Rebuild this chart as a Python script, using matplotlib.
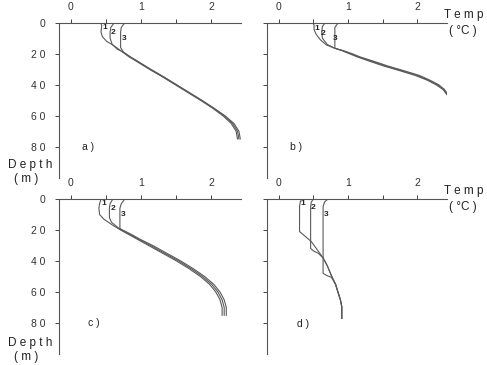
import numpy as np
import matplotlib.pyplot as plt

plt.rcParams['font.family'] = ['Liberation Sans', 'DejaVu Sans']

# ---- data (temperature degC, depth m) ----
# panel a
a1_t = [0.34, 0.43, 0.44, 0.43, 0.45, 0.51, 0.62, 0.74, 0.83, 0.94, 1.12, 1.31, 1.49, 1.67, 1.85, 2.02, 2.17, 2.29, 2.36, 2.38]
a1_d = [0, 0, 2, 6, 9, 12, 15, 19, 22, 25, 30, 35, 40, 45, 50, 55, 60, 65, 70, 75]
a2_t = [0.62, 0.57, 0.56, 0.56, 0.59, 0.66, 0.75, 0.84, 0.95, 1.13, 1.32, 1.50, 1.68, 1.86, 2.03, 2.19, 2.31, 2.38, 2.40]
a2_d = [0, 3, 6, 10, 14, 17, 19, 22, 25, 30, 35, 40, 45, 50, 55, 60, 65, 70, 75]
a3_t = [0.77, 0.72, 0.71, 0.71, 0.75, 0.85, 0.96, 1.14, 1.33, 1.51, 1.69, 1.87, 2.04, 2.20, 2.33, 2.40, 2.42]
a3_d = [0, 3, 6, 16, 19, 22, 25, 30, 35, 40, 45, 50, 55, 60, 65, 70, 75]

# panel b
b1_t = [0.28, 0.49, 0.51, 0.51, 0.54, 0.60, 0.69, 0.81, 0.91, 1.02, 1.13, 1.32, 1.52, 1.75, 1.97, 2.14, 2.27, 2.37, 2.43]
b1_d = [0, 0, 1.5, 4.5, 7.5, 11, 14.4, 16.5, 18, 20, 22, 25, 28, 31, 34, 37, 40, 43, 46.5]
b2_t = [0.67, 0.63, 0.62, 0.63, 0.70, 0.81, 0.92, 1.04, 1.15, 1.35, 1.55, 1.78, 2.00, 2.16, 2.29, 2.38, 2.44]
b2_d = [0, 2.5, 6, 10, 14, 16.5, 18, 20, 22, 25, 28, 31, 34, 37, 40, 43, 46.5]
b3_t = [0.86, 0.81, 0.81, 0.93, 1.06, 1.17, 1.38, 1.58, 1.81, 2.03, 2.18, 2.31, 2.39, 2.45]
b3_d = [0, 3, 16.5, 18, 20, 22, 25, 28, 31, 34, 37, 40, 43, 46.5]

# panel c
c1_t = [0.40, 0.43, 0.41, 0.40, 0.41, 0.47, 0.60, 0.71, 0.83, 0.95, 1.11, 1.31, 1.51, 1.69, 1.85, 1.98, 2.07, 2.13, 2.16, 2.16]
c1_d = [0, 0, 3, 6, 10, 13, 17, 20, 23, 26, 30, 35, 40, 45, 50, 55, 60, 65, 70, 75]
c2_t = [0.60, 0.56, 0.55, 0.55, 0.58, 0.66, 0.72, 0.85, 0.97, 1.14, 1.34, 1.54, 1.72, 1.88, 2.01, 2.10, 2.16, 2.19, 2.19]
c2_d = [0, 3, 6, 12, 15, 18, 20, 23, 26, 30, 35, 40, 45, 50, 55, 60, 65, 70, 75]
c3_t = [0.77, 0.72, 0.70, 0.70, 0.74, 0.87, 0.99, 1.17, 1.37, 1.57, 1.75, 1.91, 2.04, 2.13, 2.19, 2.22, 2.22]
c3_d = [0, 3, 6, 19, 20, 23, 26, 30, 35, 40, 45, 50, 55, 60, 65, 70, 75]

# panel d
d1_t = [0.33, 0.31, 0.30, 0.30, 0.38, 0.47, 0.56, 0.64, 0.70, 0.76, 0.82, 0.86, 0.89, 0.91, 0.91]
d1_d = [0, 2, 5, 21, 24, 27.5, 33, 38, 43, 49.4, 55, 60.8, 65, 69.4, 77]
d2_t = [0.50, 0.47, 0.46, 0.46, 0.50, 0.57, 0.64, 0.70, 0.76, 0.82, 0.86, 0.89, 0.91, 0.91]
d2_d = [0, 2, 5, 31.8, 33.5, 35, 38, 43, 49.4, 55, 60.8, 65, 69.4, 77]
d3_t = [0.71, 0.66, 0.64, 0.64, 0.70, 0.76, 0.82, 0.86, 0.89, 0.91, 0.91]
d3_d = [0, 2, 5, 48, 49.5, 50.5, 55, 60.8, 65, 69.4, 77]

panels = [
    ('a )', [(a1_t, a1_d), (a2_t, a2_d), (a3_t, a3_d)], [(0.49, 3.4), (0.60, 6.6), (0.76, 10.5)], (0.16, 80)),
    ('b )', [(b1_t, b1_d), (b2_t, b2_d), (b3_t, b3_d)], [(0.55, 3.6), (0.64, 6.8), (0.82, 10.5)], (0.16, 80)),
    ('c )', [(c1_t, c1_d), (c2_t, c2_d), (c3_t, c3_d)], [(0.47, 2.8), (0.60, 6.0), (0.74, 10.3)], (0.24, 80)),
    ('d )', [(d1_t, d1_d), (d2_t, d2_d), (d3_t, d3_d)], [(0.34, 2.8), (0.49, 5.6), (0.68, 10.3)], (0.26, 80.5)),
]

xticks = [0, 0.5, 1, 1.5, 2]
xticklabels = ['0', '', '1', '', '2']
yticks = [0, 20, 40, 60, 80]
yticklabels = ['0', '2 0', '4 0', '6 0', '8 0']

W, H = 487, 365
fig = plt.figure(figsize=(W / 100, H / 100), dpi=100)

# axes boxes in pixels: left, right, top (depth 0), bottom (depth 100)
boxes = [(59, 241, 22.7, 177.7), (267, 447, 22.7, 177.7),
         (59, 241, 199, 354), (267, 447, 199, 354)]

for i, (box, (lab, curves, nums, labpos)) in enumerate(zip(boxes, panels)):
    l, r, t, b = box
    ax = fig.add_axes([l / W, 1 - b / H, (r - l) / W, (b - t) / H])
    for (tt, dd) in curves:
        ax.plot(tt, dd, color='#5a5a5a', lw=0.8)
    for k, (x, y) in enumerate(nums):
        ax.text(x, y, str(k + 1), fontsize=6, fontweight='bold', color='#222222',
                ha='center', va='center')
    ax.text(labpos[0], labpos[1], lab, fontsize=7.5, color='#222222', ha='left', va='center')
    ax.set_xlim(-0.17, 2.43)
    ax.set_ylim(100, 0)
    ax.xaxis.tick_top()
    ax.set_xticks(xticks)
    ax.set_xticklabels(xticklabels)
    ax.set_yticks(yticks)
    if i % 2 == 0:
        ax.set_yticklabels(yticklabels)
    else:
        ax.set_yticklabels([])
    ax.tick_params(axis='both', labelsize=7.5, colors='#444444', length=3, width=0.7,
                   labelcolor='#333333', pad=5)
    ax.tick_params(axis='y', pad=7)
    ax.spines['right'].set_visible(False)
    ax.spines['bottom'].set_visible(False)
    for s in ('top', 'left'):
        ax.spines[s].set_color('#555555')
        ax.spines[s].set_linewidth(0.8)
    ax.patch.set_alpha(0)

# axis titles as figure text
for yy in (165, 343):
    fig.text(30 / W, 1 - yy / H, 'D e p t h', fontsize=8.5, ha='center', va='center', color='#222222')
    fig.text(26 / W, 1 - (yy + 14) / H, '( m )', fontsize=8.5, ha='center', va='center', color='#222222')
for yy in (15, 191):
    fig.text(464 / W, 1 - yy / H, 'T e m p', fontsize=8.5, ha='center', va='center', color='#222222')
    fig.text(463 / W, 1 - (yy + 16) / H, '( °C )', fontsize=8.5, ha='center', va='center', color='#222222')

fig.savefig('out.png', dpi=100)
